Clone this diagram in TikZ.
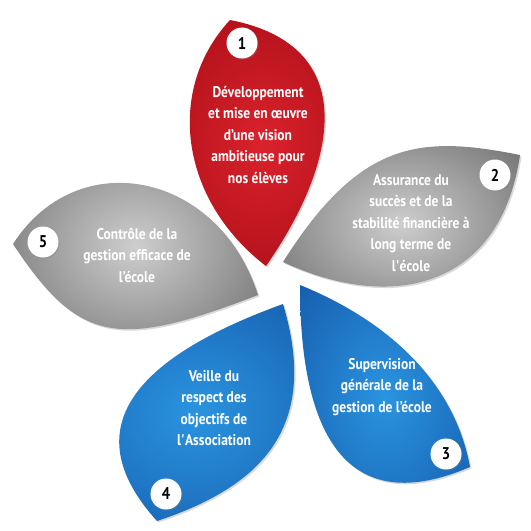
\documentclass[tikz,border=0pt]{standalone}
\usepackage{fontspec}
\setmainfont{PT Sans}[FakeStretch=0.87]
\usetikzlibrary{shadows}
\definecolor{redin}{RGB}{218,34,44}
\definecolor{redout}{RGB}{166,12,22}
\definecolor{grayin}{RGB}{206,206,206}
\definecolor{grayout}{RGB}{108,108,108}
\definecolor{bluein}{RGB}{42,148,224}
\definecolor{blueout}{RGB}{22,94,174}
\pgfdeclareradialshading{redglow}{\pgfpointorigin}{color(0bp)=(redin); color(36bp)=(redout); color(100bp)=(redout)}
\pgfdeclareradialshading{grayglow}{\pgfpointorigin}{color(0bp)=(grayin); color(36bp)=(grayout); color(100bp)=(grayout)}
\pgfdeclareradialshading{blueglow}{\pgfpointorigin}{color(0bp)=(bluein); color(36bp)=(blueout); color(100bp)=(blueout)}
\begin{document}
\begin{tikzpicture}[x=1pt, y=-1pt,
  petal/.style={drop shadow={opacity=0.3, shadow xshift=1.5pt, shadow yshift=-1.5pt}},
  redpetal/.style={petal, shading=redglow},
  graypetal/.style={petal, shading=grayglow},
  bluepetal/.style={petal, shading=blueglow},
  numdot/.style={circle, fill=white, minimum size=31pt, inner sep=0pt,
    font=\bfseries\fontsize{17}{17}\selectfont,
    drop shadow={opacity=0.35, shadow xshift=1pt, shadow yshift=-1pt}},
  petaltext/.style={text=white, align=center, inner sep=0pt,
    font=\bfseries\fontsize{15.5}{21.5}\selectfont}]
  \useasboundingbox (0,0) rectangle (531,531);
  % petals
  \shade[redpetal] (230,20) .. controls (360,45) and (340,160) .. (266,266)
    .. controls (180,200) and (165,90) .. (230,20) -- cycle;
  \shade[graypetal] (283,262) .. controls (360,140) and (420,135) .. (520,155)
    .. controls (500,290) and (390,312) .. (283,262) -- cycle;
  \shade[bluepetal] (300,285) .. controls (384,319) and (454,379) .. (470,467)
    .. controls (370,510) and (300,470) .. (300,285) -- cycle;
  \shade[bluepetal] (283,304) .. controls (142,355) and (70,425) .. (157,521)
    .. controls (266,485) and (319,424) .. (283,304) -- cycle;
  \shade[graypetal] (13,244) .. controls (78,143) and (219,172) .. (258,295)
    .. controls (118,349) and (79,344) .. (13,244) -- cycle;
  % numbers
  \node[numdot] (n1) at (242,43) {1};
  \node[numdot] (n2) at (495,175) {2};
  \node[numdot] (n3) at (446,454) {3};
  \node[numdot] (n4) at (166,494) {4};
  \node[numdot] (n5) at (43,242) {5};
  % texts
  \node[petaltext] (t1) at (258,135) {Développement\\et mise en œuvre\\d’une vision\\ambitieuse pour\\nos élèves};
  \node[petaltext] (t2) at (411,223) {Assurance du\\succès et de la\\stabilité financière à\\long terme de\\l\textquotesingle école};
  \node[petaltext] (t3) at (382,387) {Supervision\\générale de la\\gestion de l’école};
  \node[petaltext] (t4) at (214,408) {Veille du\\respect des\\objectifs de\\l\textquotesingle Association};
  \node[petaltext] (t5) at (137,255) {Contrôle de la\\gestion efficace de\\l’école};
\end{tikzpicture}
\end{document}
